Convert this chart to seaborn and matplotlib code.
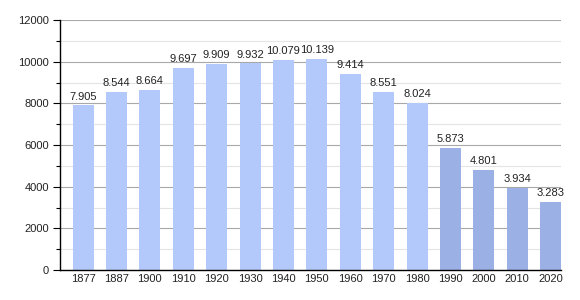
import matplotlib
matplotlib.use("Agg")
import matplotlib.pyplot as plt
import seaborn as sns
import pandas as pd
from matplotlib.ticker import MultipleLocator

years = ["1877", "1887", "1900", "1910", "1920", "1930", "1940", "1950",
         "1960", "1970", "1980", "1990", "2000", "2010", "2020"]
population = [7905, 8544, 8664, 9697, 9909, 9932, 10079, 10139,
              9414, 8551, 8024, 5873, 4801, 3934, 3283]
bar_colors = ["#b3c9fb"] * 11 + ["#9bb1e5"] * 4

sns.set_theme(style="white")
plt.rcParams['font.family'] = ['Liberation Sans', 'DejaVu Sans']

df = pd.DataFrame({"year": years, "pop": population})

fig = plt.figure(figsize=(5.8, 3.0), dpi=100)
ax = fig.add_axes([60/580, 30/300, 501/580, 250/300])

sns.barplot(data=df, x="year", y="pop", hue="year", palette=bar_colors,
            legend=False, width=0.63, ax=ax, saturation=1, linewidth=0)

for i, v in enumerate(population):
    lab = f"{v:,}".replace(",", ".")
    ax.text(i, v + 170, lab, ha="center", va="bottom", fontsize=8, color="#222222")

ax.set_ylim(0, 12000)
ax.set_xlim(-0.69, 14.31)
ax.yaxis.set_major_locator(MultipleLocator(2000))
ax.yaxis.set_minor_locator(MultipleLocator(1000))
ax.grid(axis="y", which="major", color="#a8a8a8", linewidth=0.8)
ax.grid(axis="y", which="minor", color="#e4e4e4", linewidth=0.8)
ax.set_axisbelow(True)

for s in ["top", "right"]:
    ax.spines[s].set_visible(False)
for s in ["left", "bottom"]:
    ax.spines[s].set_color("black")
    ax.spines[s].set_linewidth(1.0)

ax.tick_params(axis="y", which="major", left=True, length=5, width=0.8, color="black",
               labelsize=8, labelcolor="#222222", pad=3)
ax.tick_params(axis="y", which="minor", left=True, length=3, width=0.8, color="black")
ax.tick_params(axis="x", bottom=False, length=0, labelsize=8, labelcolor="#222222", pad=3)
ax.set_xlabel("")
ax.set_ylabel("")

fig.savefig("out.png", dpi=100)
